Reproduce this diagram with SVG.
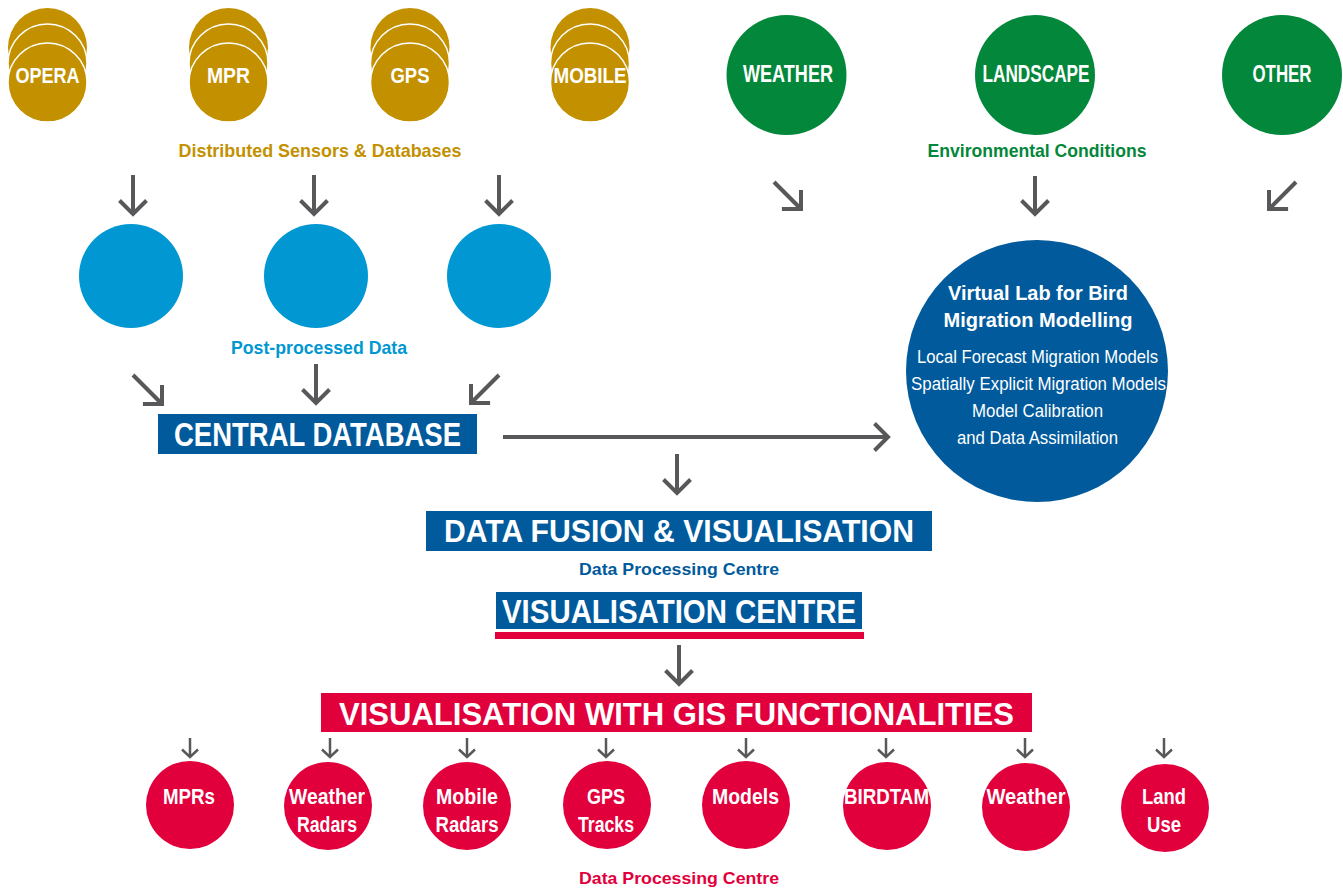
<svg xmlns="http://www.w3.org/2000/svg" width="1343" height="889" viewBox="0 0 1343 889">
<defs>
<style>
.t{font-family:"Liberation Sans",Arial,sans-serif;font-weight:bold;text-anchor:middle}
.r{font-family:"Liberation Sans",Arial,sans-serif;font-weight:normal;text-anchor:middle}
.w{fill:#fff}
.gold{fill:#C39100}
.green{fill:#03873A}
.lb{fill:#0097D2}
.db{fill:#005A9C}
.red{fill:#E2003C}
.stk{fill:#C39100;stroke:#fff;stroke-width:1.5}
.ar{fill:none;stroke:#58585A;stroke-width:4;marker-end:url(#ah)}
.ars{fill:none;stroke:#58585A;stroke-width:2.5;marker-end:url(#ahs)}
</style>
<marker id="ah" markerUnits="userSpaceOnUse" orient="auto" refX="0" refY="0" markerWidth="40" markerHeight="40" overflow="visible">
<path d="M-13.5 -13.5 L0 0 L-13.5 13.5" fill="none" stroke="#58585A" stroke-width="4"/>
</marker>
<marker id="ahs" markerUnits="userSpaceOnUse" orient="auto" refX="0" refY="0" markerWidth="20" markerHeight="20" overflow="visible">
<path d="M-7.5 -8 L0 0 L-7.5 8" fill="none" stroke="#58585A" stroke-width="2.5"/>
</marker>
</defs>
<rect width="1343" height="889" fill="#fff"/>

<g id="opera">
<circle cx="47.5" cy="47.5" r="39.5" class="gold"/>
<circle cx="47.5" cy="63.5" r="39.5" class="stk"/>
<circle cx="47.5" cy="82.5" r="39.5" class="stk"/>
<text x="47.5" y="83" font-size="22" class="t w" textLength="64" lengthAdjust="spacingAndGlyphs">OPERA</text>
</g>
<g id="mpr">
<circle cx="228.5" cy="47.5" r="39.5" class="gold"/>
<circle cx="228.5" cy="63.5" r="39.5" class="stk"/>
<circle cx="228.5" cy="82.5" r="39.5" class="stk"/>
<text x="228.5" y="83" font-size="22" class="t w" textLength="43" lengthAdjust="spacingAndGlyphs">MPR</text>
</g>
<g id="gps">
<circle cx="410" cy="47.5" r="39.5" class="gold"/>
<circle cx="410" cy="63.5" r="39.5" class="stk"/>
<circle cx="410" cy="82.5" r="39.5" class="stk"/>
<text x="410" y="83" font-size="22" class="t w" textLength="39" lengthAdjust="spacingAndGlyphs">GPS</text>
</g>
<g id="mobile">
<circle cx="590" cy="47.5" r="39.5" class="gold"/>
<circle cx="590" cy="63.5" r="39.5" class="stk"/>
<circle cx="590" cy="82.5" r="39.5" class="stk"/>
<text x="590" y="83" font-size="22" class="t w" textLength="73" lengthAdjust="spacingAndGlyphs">MOBILE</text>
</g>
<g id="sensors-label">
<text x="320" y="157" font-size="18.5" class="t gold" textLength="283" lengthAdjust="spacingAndGlyphs">Distributed Sensors &amp; Databases</text>
</g>

<g id="weather">
<circle cx="786.5" cy="75" r="60" class="green"/>
<text x="788" y="82" font-size="23" class="t w" textLength="90" lengthAdjust="spacingAndGlyphs">WEATHER</text>
</g>
<g id="landscape">
<circle cx="1035" cy="75" r="60" class="green"/>
<text x="1036" y="82" font-size="23" class="t w" textLength="107" lengthAdjust="spacingAndGlyphs">LANDSCAPE</text>
</g>
<g id="other">
<circle cx="1282" cy="75" r="60" class="green"/>
<text x="1282" y="82" font-size="23" class="t w" textLength="59" lengthAdjust="spacingAndGlyphs">OTHER</text>
</g>
<g id="env-label">
<text x="1037" y="157" font-size="18.5" class="t green" textLength="219" lengthAdjust="spacingAndGlyphs">Environmental Conditions</text>
</g>

<g id="pp1"><circle cx="131" cy="276" r="52" class="lb"/></g>
<g id="pp2"><circle cx="316" cy="276" r="52" class="lb"/></g>
<g id="pp3"><circle cx="499" cy="276" r="52" class="lb"/></g>
<g id="pp-label">
<text x="319" y="354" font-size="18.5" class="t lb" textLength="176" lengthAdjust="spacingAndGlyphs">Post-processed Data</text>
</g>

<g id="central-db">
<rect x="158" y="414" width="319" height="40" class="db"/>
<text x="317.5" y="446" font-size="33" class="t w" textLength="287" lengthAdjust="spacingAndGlyphs">CENTRAL DATABASE</text>
</g>

<g id="virtual-lab">
<circle cx="1037" cy="371" r="131" class="db"/>
<text x="1038" y="300" font-size="20.5" class="t w" textLength="180" lengthAdjust="spacingAndGlyphs">Virtual Lab for Bird</text>
<text x="1038" y="327" font-size="20.5" class="t w" textLength="189" lengthAdjust="spacingAndGlyphs">Migration Modelling</text>
<text x="1037.5" y="363" font-size="17.5" class="r w" textLength="241" lengthAdjust="spacingAndGlyphs">Local Forecast Migration Models</text>
<text x="1038.5" y="390" font-size="17.5" class="r w" textLength="255" lengthAdjust="spacingAndGlyphs">Spatially Explicit Migration Models</text>
<text x="1037.5" y="417" font-size="17.5" class="r w" textLength="131" lengthAdjust="spacingAndGlyphs">Model Calibration</text>
<text x="1037.5" y="444" font-size="17.5" class="r w" textLength="161" lengthAdjust="spacingAndGlyphs">and Data Assimilation</text>
</g>

<g id="data-fusion">
<rect x="426" y="511" width="506" height="40" class="db"/>
<text x="679" y="542" font-size="32" class="t w" textLength="470" lengthAdjust="spacingAndGlyphs">DATA FUSION &amp; VISUALISATION</text>
</g>
<g id="dpc-label">
<text x="679" y="575" font-size="16.5" class="t db" textLength="200" lengthAdjust="spacingAndGlyphs">Data Processing Centre</text>
</g>
<g id="vis-centre">
<rect x="496" y="592" width="366" height="37" class="db"/>
<rect x="495" y="632" width="369" height="7" class="red"/>
<text x="679" y="623" font-size="33" class="t w" textLength="354" lengthAdjust="spacingAndGlyphs">VISUALISATION CENTRE</text>
</g>
<g id="gis">
<rect x="321" y="693" width="711" height="39" class="red"/>
<text x="676.5" y="725" font-size="32" class="t w" textLength="675" lengthAdjust="spacingAndGlyphs">VISUALISATION WITH GIS FUNCTIONALITIES</text>
</g>

<g id="out-mprs"><circle cx="190" cy="805" r="44" class="red"/>
<text x="189" y="804" font-size="21.5" class="t w" textLength="52" lengthAdjust="spacingAndGlyphs">MPRs</text></g>
<g id="out-weather-radars"><circle cx="328" cy="806" r="44" class="red"/>
<text x="327" y="804" font-size="21.5" class="t w" textLength="76" lengthAdjust="spacingAndGlyphs">Weather</text>
<text x="327" y="832" font-size="21.5" class="t w" textLength="60" lengthAdjust="spacingAndGlyphs">Radars</text></g>
<g id="out-mobile-radars"><circle cx="467" cy="806" r="44" class="red"/>
<text x="467" y="804" font-size="21.5" class="t w" textLength="62" lengthAdjust="spacingAndGlyphs">Mobile</text>
<text x="467" y="832" font-size="21.5" class="t w" textLength="63" lengthAdjust="spacingAndGlyphs">Radars</text></g>
<g id="out-gps-tracks"><circle cx="607" cy="805" r="44" class="red"/>
<text x="606" y="804" font-size="21.5" class="t w" textLength="38" lengthAdjust="spacingAndGlyphs">GPS</text>
<text x="606" y="832" font-size="21.5" class="t w" textLength="56" lengthAdjust="spacingAndGlyphs">Tracks</text></g>
<g id="out-models"><circle cx="746" cy="805" r="44" class="red"/>
<text x="745.5" y="804" font-size="21.5" class="t w" textLength="67" lengthAdjust="spacingAndGlyphs">Models</text></g>
<g id="out-birdtam"><circle cx="887" cy="806" r="44" class="red"/>
<text x="886.5" y="804" font-size="21.5" class="t w" textLength="85" lengthAdjust="spacingAndGlyphs">BIRDTAM</text></g>
<g id="out-weather"><circle cx="1026" cy="807" r="44" class="red"/>
<text x="1026" y="804" font-size="21.5" class="t w" textLength="79" lengthAdjust="spacingAndGlyphs">Weather</text></g>
<g id="out-land-use"><circle cx="1165" cy="808" r="44" class="red"/>
<text x="1164" y="804" font-size="21.5" class="t w" textLength="44" lengthAdjust="spacingAndGlyphs">Land</text>
<text x="1164" y="832" font-size="21.5" class="t w" textLength="34" lengthAdjust="spacingAndGlyphs">Use</text></g>
<g id="dpc-label-2">
<text x="679" y="884" font-size="16.5" class="t red" textLength="200" lengthAdjust="spacingAndGlyphs">Data Processing Centre</text>
</g>

<g id="connectors">
<path class="ar" d="M133 175 V214"/>
<path class="ar" d="M314 175 V214"/>
<path class="ar" d="M499 175 V214"/>
<path class="ar" d="M774 182 L801 209"/>
<path class="ar" d="M1035 176 V214"/>
<path class="ar" d="M1296 182 L1269 209"/>
<path class="ar" d="M133 375 L162 404"/>
<path class="ar" d="M316 364 V403"/>
<path class="ar" d="M499 375 L471 403"/>
<path class="ar" d="M503 437 H888"/>
<path class="ar" d="M677 454 V493"/>
<path class="ar" d="M679 645 V684"/>
<path class="ars" d="M190 738 V757"/>
<path class="ars" d="M330 738 V757"/>
<path class="ars" d="M467 738 V757"/>
<path class="ars" d="M606 738 V757"/>
<path class="ars" d="M746 738 V757"/>
<path class="ars" d="M886 738 V757"/>
<path class="ars" d="M1025 738 V757"/>
<path class="ars" d="M1164 738 V757"/>
</g>
</svg>
